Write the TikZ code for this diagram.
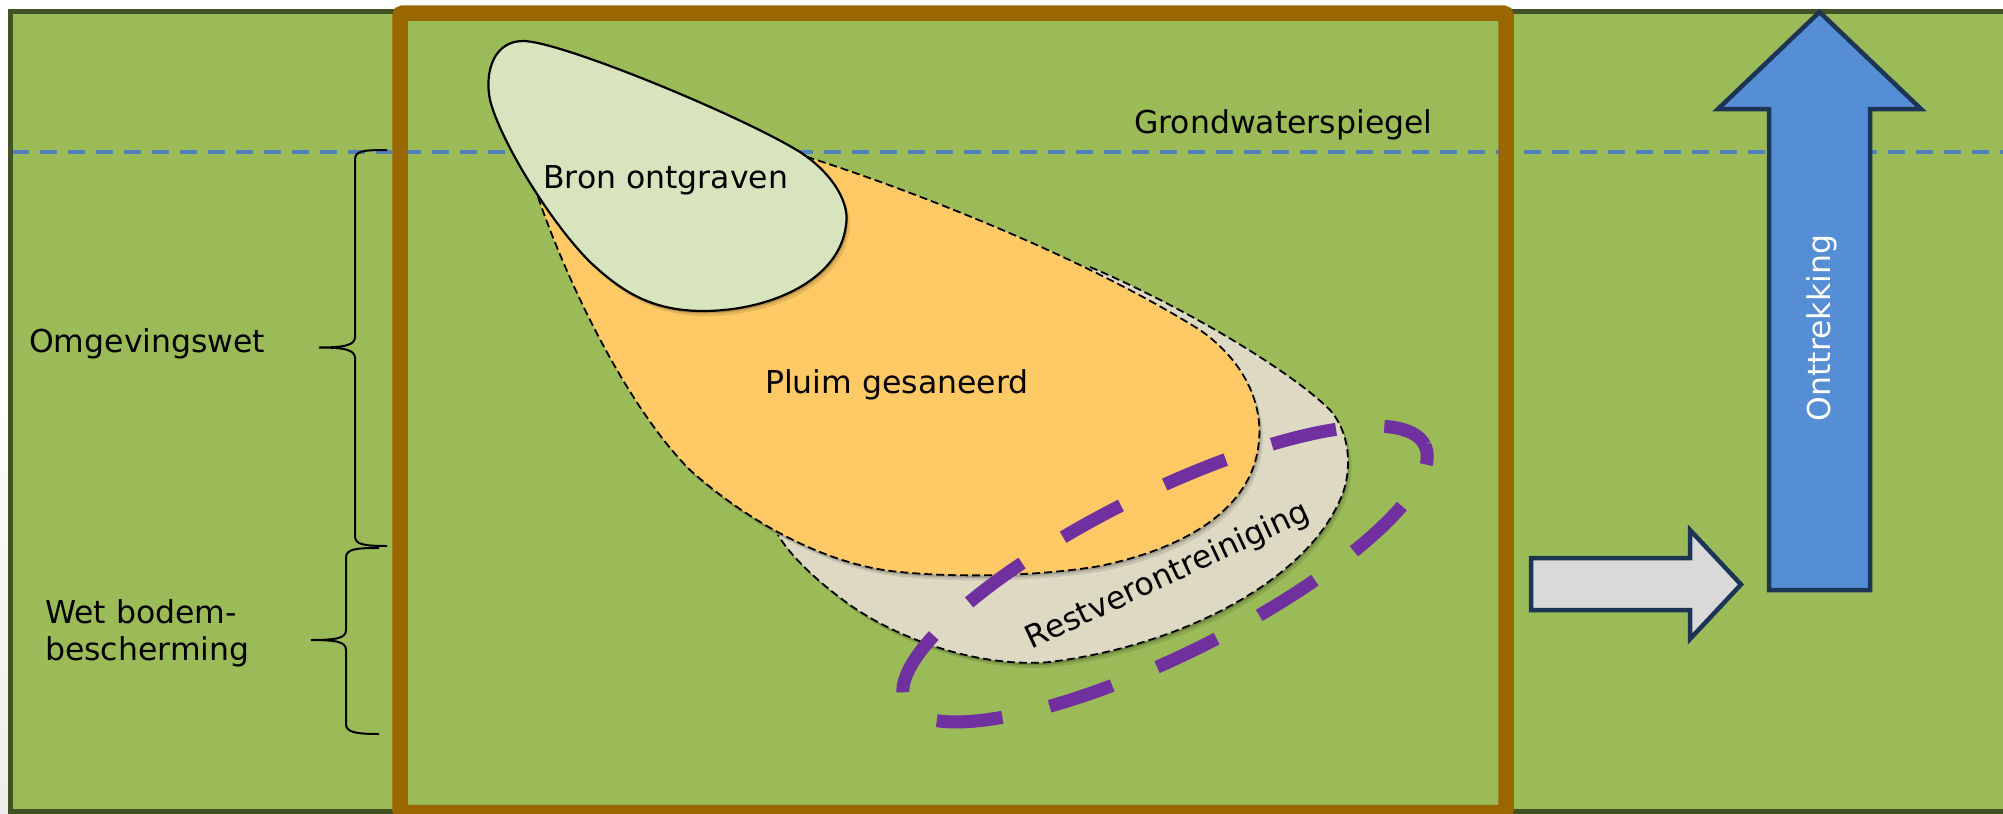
\documentclass[tikz,border=0pt]{standalone}
\usepackage{fontspec}
\setmainfont{DejaVu Sans}
\definecolor{grass}{HTML}{9BBB59}
\definecolor{grassline}{RGB}{66,82,36}
\definecolor{brownline}{HTML}{996600}
\definecolor{waterblue}{HTML}{4F81BD}
\definecolor{bronfill}{HTML}{D7E4BD}
\definecolor{pluimfill}{HTML}{FFCA66}
\definecolor{restfill}{HTML}{DDD9C3}
\definecolor{purpleline}{HTML}{7030A0}
\definecolor{arrowblue}{HTML}{558ED5}
\definecolor{navyline}{HTML}{1C3554}
\definecolor{arrowgrey}{HTML}{D9D9D9}
\tikzset{
  lbl/.style={inner sep=0pt, font=\fontsize{31.5}{38}\selectfont},
  bracepath/.style={draw=black, line width=2pt},
  softshadow/.style={
    preaction={fill=black, fill opacity=0.10, transform canvas={shift={(3.5pt,-5pt)}}},
    preaction={fill=black, fill opacity=0.16, transform canvas={shift={(1.5pt,-2.5pt)}}}},
  blobdash/.style={draw=black, line width=1.8pt, dash pattern=on 8pt off 4pt},
  arrowshape/.style={draw=navyline, line width=4.5pt, miter limit=10},
}
\begin{document}
\begin{tikzpicture}[x=1pt,y=-1pt]
\useasboundingbox (0,0) rectangle (2003,814);
% faint shadow of the ground block
\shade[top color=white, bottom color=black!7] (0,350) rectangle (12,814);
% ground block
\fill[grass] (10,11.5) rectangle (2012,811);
% groundwater table
\draw[waterblue, line width=4pt, dash pattern=on 17pt off 11pt] (12,152) -- (2003,152);
\draw[grassline, line width=5pt] (2012,11.5) -- (10,11.5) -- (10,811) -- (2012,811);
% brown frame
\draw[brownline, line width=15.5pt, rounded corners=3pt] (400,13) rectangle (1506,812.5);
% braces
\draw[bracepath] (387,150) .. controls (362,150) and (355,151) .. (355,160) -- (355,337)
   .. controls (355,345) and (345,347.5) .. (319,347.5)
   .. controls (345,347.5) and (355,350) .. (355,358) -- (355,536)
   .. controls (355,544) and (362,546) .. (387,546);
\draw[bracepath] (379,548) .. controls (355,548) and (346,549) .. (346,558) -- (346,630)
   .. controls (346,638) and (337,640) .. (311,640)
   .. controls (337,640) and (346,642) .. (346,650) -- (346,724)
   .. controls (346,732) and (355,734) .. (379,734);
% rest contamination
\path[fill=restfill, softshadow] (1090,267) .. controls (1180,305) and (1290,370) .. (1330,410)
   .. controls (1352,435) and (1352,475) .. (1340,500)
   .. controls (1305,580) and (1185,645) .. (1050,662)
   .. controls (980,668) and (900,640) .. (850,605)
   .. controls (815,580) and (790,555) .. (778,535) -- cycle;
\draw[blobdash] (1090,267) .. controls (1180,305) and (1290,370) .. (1330,410)
   .. controls (1352,435) and (1352,475) .. (1340,500)
   .. controls (1305,580) and (1185,645) .. (1050,662)
   .. controls (980,668) and (900,640) .. (850,605)
   .. controls (815,580) and (790,555) .. (778,535);
% plume
\path[fill=pluimfill, softshadow, blobdash] (532,165) -- (785,150)
   .. controls (900,185) and (1080,255) .. (1200,330)
   .. controls (1250,365) and (1262,410) .. (1259,440)
   .. controls (1255,500) and (1200,545) .. (1100,566)
   .. controls (1040,576) and (960,578) .. (900,572)
   .. controls (820,565) and (740,515) .. (690,470)
   .. controls (630,410) and (570,290) .. (538,197) -- cycle;
% excavated source
\path[fill=bronfill, draw=black, line width=2.2pt, softshadow] (523,41)
   .. controls (560,41) and (740,115) .. (800,152)
   .. controls (835,175) and (850,205) .. (846,225)
   .. controls (840,280) and (770,311) .. (703,311)
   .. controls (650,311) and (620,290) .. (590,262)
   .. controls (550,222) and (500,140) .. (490,100)
   .. controls (484,70) and (495,41) .. (523,41) -- cycle;
% extraction zone
\draw[purpleline, line width=13pt, dash pattern=on 66pt off 48.5pt, dash phase=46pt,
      rotate around={26.4:(1165,574)}] (1165,574) ellipse [x radius=290, y radius=81];
% labels
\node[lbl, anchor=base west] (grond) at (1134,133) {Grondwaterspiegel};
\node[lbl, anchor=base west] (bron) at (543,188) {Bron ontgraven};
\node[lbl, anchor=base west] (pluim) at (765,393) {Pluim gesaneerd};
\node[lbl, rotate=25] (rest) at (1168,576) {Restverontreiniging};
\node[lbl, anchor=base west] (omg) at (29,352) {Omgevingswet};
\node[lbl, anchor=base west] (wet1) at (45,623) {Wet bodem-};
\node[lbl, anchor=base west] (wet2) at (45,660) {bescherming};
% arrows
\path[arrowshape, fill=arrowgrey] (1531,558) -- (1690,558) -- (1690,530) -- (1741,584.5)
   -- (1690,639) -- (1690,610) -- (1531,610) -- cycle;
\path[arrowshape, fill=arrowblue] (1769,590) -- (1769,109) -- (1718,109) -- (1819.5,12)
   -- (1921,109) -- (1870,109) -- (1870,590) -- cycle;
\node[lbl, rotate=90, text=white] (ontt) at (1822,328) {Onttrekking};
\end{tikzpicture}
\end{document}
